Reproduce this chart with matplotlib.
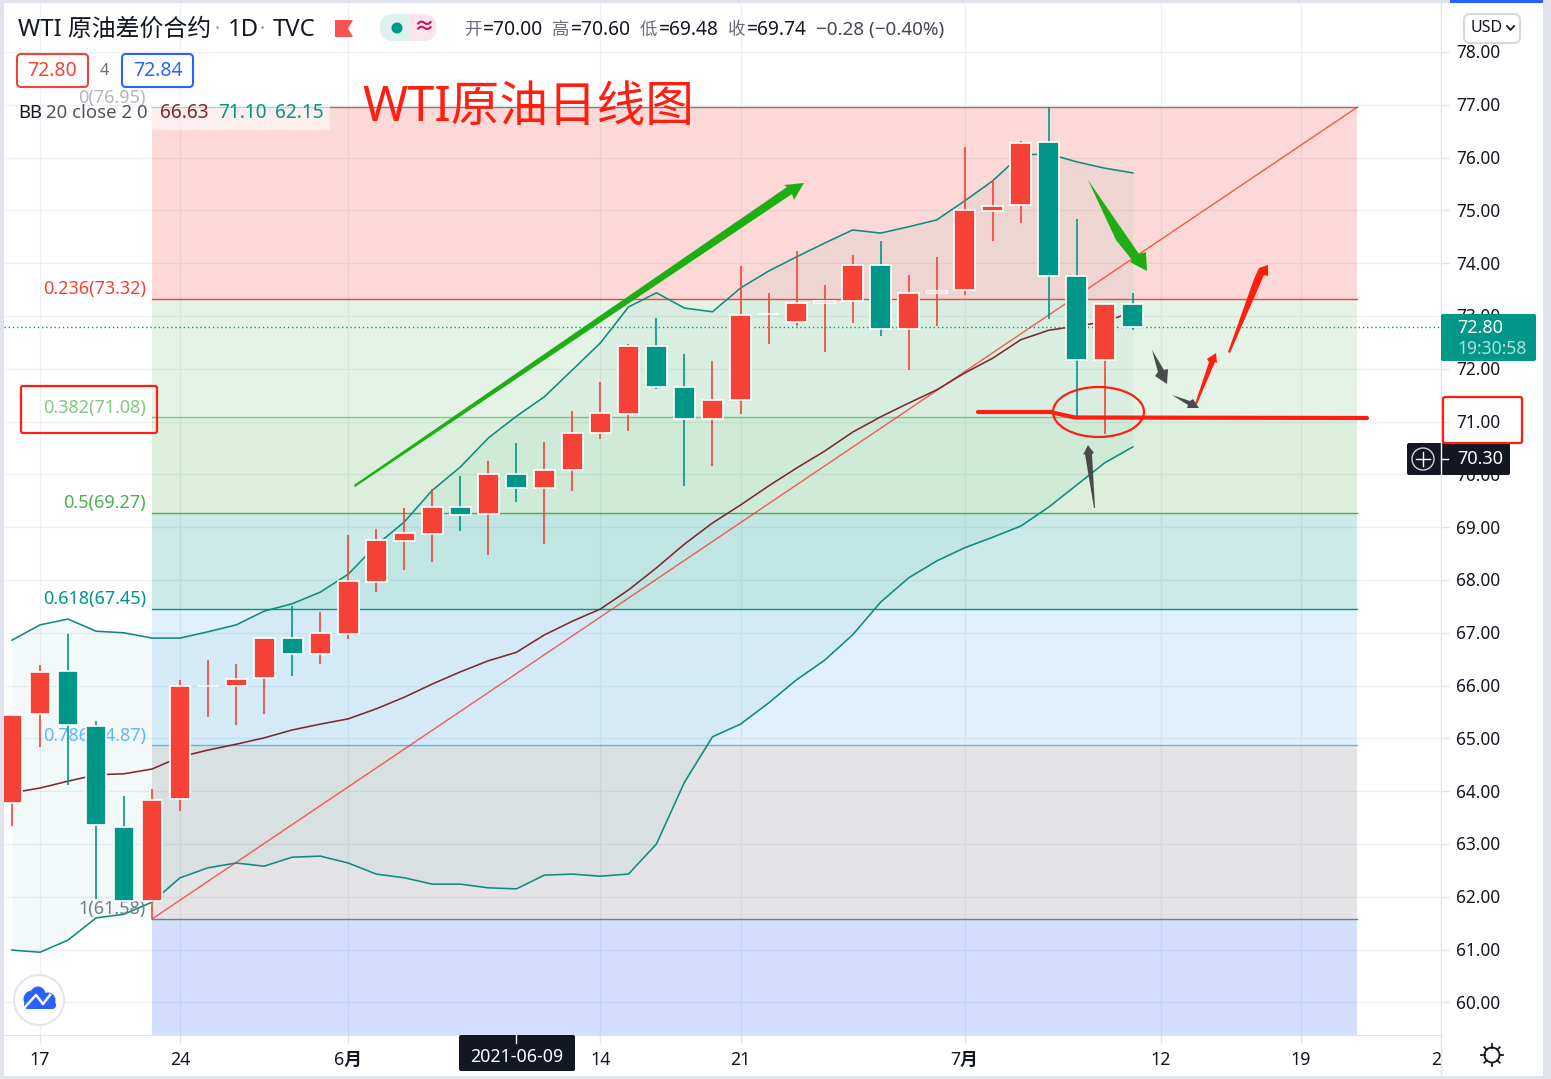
import numpy as np
import matplotlib
matplotlib.use('Agg')
import matplotlib.pyplot as plt
from matplotlib.patches import Polygon, FancyBboxPatch, Rectangle, Circle, Ellipse
from matplotlib.transforms import ScaledTranslation

plt.rcParams['font.family'] = ['Noto Sans', 'Noto Sans CJK SC', 'DejaVu Sans']

# daily candles, TVC WTI
opens = [63.78, 65.46, 66.28, 65.24, 63.32, 61.92, 63.85, 66.00, 66.00, 66.14, 66.90, 66.60, 66.98, 67.96,
         68.74, 68.87, 69.38, 69.25, 70.00, 69.74, 70.08, 70.78, 71.14, 72.43, 71.66, 71.05, 71.41, 73.04,
         72.89, 73.25, 73.28, 73.97, 72.75, 73.43, 73.49, 74.99, 75.10, 76.29, 73.76, 72.17, 73.23]
closes = [65.44, 66.26, 65.25, 63.36, 61.92, 63.83, 66.00, 66.00, 66.12, 66.90, 66.60, 67.00, 67.98, 68.76,
          68.89, 69.38, 69.23, 70.00, 69.74, 70.08, 70.78, 71.16, 72.43, 71.66, 71.05, 71.41, 73.02, 73.04,
          73.25, 73.28, 73.97, 72.75, 73.44, 73.47, 75.00, 75.08, 76.27, 73.76, 72.17, 73.23, 72.80]
highs = [65.44, 66.39, 66.98, 65.33, 63.91, 64.04, 66.11, 66.48, 66.41, 66.90, 67.50, 67.39, 68.85, 68.97,
         69.36, 69.72, 69.97, 70.25, 70.60, 70.61, 71.20, 71.75, 72.47, 72.96, 72.28, 72.15, 73.95, 73.44,
         74.23, 73.59, 74.16, 74.42, 73.78, 74.12, 76.20, 75.58, 76.31, 76.95, 74.84, 73.23, 73.44]
lows = [63.34, 64.84, 64.12, 61.96, 61.92, 61.58, 63.63, 65.41, 65.25, 65.46, 66.18, 66.41, 66.88, 67.77,
        68.19, 68.34, 68.93, 68.47, 69.48, 68.68, 69.69, 70.67, 70.82, 71.62, 69.78, 70.16, 71.14, 72.47,
        72.81, 72.32, 72.87, 72.62, 71.98, 72.81, 73.40, 74.42, 74.76, 72.94, 71.09, 70.77, 72.73]

# Bollinger bands 20, 2
bb_upper = [66.86, 67.15, 67.26, 67.03, 67.00, 66.90, 66.90, 67.02, 67.15, 67.41, 67.55, 67.77, 68.11, 68.66,
            69.10, 69.70, 70.14, 70.69, 71.10, 71.47, 71.98, 72.49, 73.17, 73.44, 73.15, 73.08, 73.53, 73.85,
            74.12, 74.38, 74.63, 74.57, 74.69, 74.82, 75.18, 75.56, 76.05, 76.07, 75.92, 75.80, 75.71]
bb_basis = [63.97, 64.06, 64.19, 64.31, 64.33, 64.42, 64.65, 64.78, 64.89, 65.01, 65.16, 65.27, 65.37, 65.56,
            65.78, 66.03, 66.26, 66.47, 66.63, 66.96, 67.22, 67.45, 67.81, 68.23, 68.68, 69.08, 69.42, 69.78,
            70.12, 70.44, 70.80, 71.09, 71.35, 71.60, 71.92, 72.20, 72.55, 72.73, 72.81, 72.89, 73.08]
bb_lower = [60.99, 60.95, 61.18, 61.60, 61.67, 61.90, 62.36, 62.55, 62.64, 62.58, 62.75, 62.77, 62.64, 62.43,
            62.36, 62.24, 62.24, 62.17, 62.15, 62.41, 62.43, 62.39, 62.43, 63.00, 64.17, 65.03, 65.27, 65.67,
            66.11, 66.48, 66.96, 67.58, 68.04, 68.36, 68.61, 68.81, 69.02, 69.38, 69.80, 70.22, 70.52]

# fibonacci retracement
fib_names = ['0', '0.236', '0.382', '0.5', '0.618', '0.786', '1']
fib_prices = [76.95, 73.32, 71.08, 69.27, 67.45, 64.87, 61.58]
fib_colors = ['#787B86', '#F44336', '#81C784', '#4CAF50', '#009688', '#64B5F6', '#787B86']
fib_fills = ['#F44336', '#81C784', '#4CAF50', '#009688', '#64B5F6', '#787B86', '#2962FF']

price_ticks = list(range(60, 79))
date_ticks = [1, 6, 12, 21, 26, 34, 41, 46, 51]
date_labels = ['17', '24', '6月', '14', '21', '7月', '12', '19', '2']

last_price = 72.80
hover_price = 70.30
fib_start = 5
fib_end = 48

RED = '#F44336'
TEAL = '#009688'
INK = '#131722'
BORDER = '#E0E3EB'
MARK = '#FF1E10'

W, H = 1551, 1079
fig = plt.figure(figsize=(W / 100, H / 100), dpi=100, facecolor='white')
ax = fig.add_axes([4 / W, 1 - 1035 / H, (1441 - 4) / W, (1035 - 3) / H])
x_per_bar = 28.025
ax.set_xlim((4 - 12) / x_per_bar, (1441 - 12) / x_per_bar)
ax.set_ylim(78 - (1035 - 52) / 52.8, 78 + (52 - 3) / 52.8)

ax.set_axisbelow(True)
ax.grid(True, color='#EDF0F4', lw=1)
for s in ['top', 'left']:
    ax.spines[s].set_visible(False)
for s in ['right', 'bottom']:
    ax.spines[s].set_color(BORDER)
ax.yaxis.tick_right()
ax.set_yticks(price_ticks)
ax.set_yticklabels(['%.2f' % p for p in price_ticks], fontsize=12.4, color=INK)
ax.tick_params(axis='y', length=5.8, width=1, color=BORDER, pad=5)
nudge = ScaledTranslation(0, 0.7 / 100, fig.dpi_scale_trans)
for lbl in ax.get_yticklabels():
    lbl.set_transform(lbl.get_transform() + nudge)
ax.set_xticks(date_ticks)
ax.set_xticklabels(date_labels, fontsize=12.8, color=INK)
ax.tick_params(axis='x', length=5.8, width=1, color=BORDER, pad=6)
for lbl in ax.get_xticklabels():
    if '月' in lbl.get_text():
        lbl.set_fontweight('bold')
# the last date sits against the price scale
ax.get_xticklabels()[-1].set_ha('right')

# fib zones and levels
x_fib = [fib_start, fib_end]
bottoms = fib_prices[1:] + [ax.get_ylim()[0]]
for top, bot, c in zip(fib_prices, bottoms, fib_fills):
    ax.fill_between(x_fib, bot, top, color=c, alpha=0.2, lw=0, zorder=1)
for p, c in zip(fib_prices, fib_colors):
    ax.plot(x_fib, [p, p], color=c, lw=1, zorder=2)
ax.plot(x_fib, [fib_prices[-1], fib_prices[0]], color=RED, lw=1, alpha=0.85, zorder=2.5)

# bollinger bands
x = np.arange(len(closes))
ax.fill_between(x, bb_lower, bb_upper, color=TEAL, alpha=0.05, lw=0, zorder=2)
ax.plot(x, bb_upper, color='#0F8A80', lw=1.15, zorder=3)
ax.plot(x, bb_lower, color='#0F8A80', lw=1.15, zorder=3)
ax.plot(x, bb_basis, color='#7B2A2E', lw=1.15, zorder=3)

ax.axhline(last_price, color=TEAL, lw=1, ls=(0, (1, 2)), zorder=3.2)

# fib level captions
for name, p, c in zip(fib_names, fib_prices, fib_colors):
    a = 0.55 if name == '0' else 1
    ax.annotate('%s(%.2f)' % (name, p), (fib_start, p), xytext=(-4.5, 0.5), textcoords='offset points',
                ha='right', va='bottom', fontsize=13, color=c, alpha=a, zorder=3.5, annotation_clip=False)

# candles
colors = [RED if c >= o else TEAL for o, c in zip(opens, closes)]
ax.vlines(x, lows, highs, colors=colors, lw=1.2, zorder=4)
o = np.array(opens)
c = np.array(closes)
ax.bar(x, c - o, bottom=o, width=0.74, color=colors, edgecolor='white', lw=1.2, zorder=5)

# overlay in pixel units for the toolbar bits and hand drawn marks
ov = fig.add_axes([0, 0, 1, 1], zorder=10)
ov.set_xlim(0, W)
ov.set_ylim(H, 0)
ov.axis('off')


def rbox(x0, y0, x1, y1, r=3, **kw):
    ov.add_patch(FancyBboxPatch((x0, y0), x1 - x0, y1 - y0, boxstyle='round,pad=0,rounding_size=%g' % r, **kw))


def label(px, py, s, size=12.4, color=INK, ha='left', **kw):
    ov.text(px, py, s, fontsize=size, color=color, ha=ha, va='center', **kw)


# page frame
ov.add_patch(Rectangle((1442, 1036), W - 1442, H - 1036, color='white', lw=0))
ov.add_patch(Rectangle((0, 0), 3.5, H, color=BORDER, lw=0))
ov.add_patch(Rectangle((1543, 0), 8, H, color=BORDER, lw=0))
ov.add_patch(Rectangle((0, 1076), W, 3, color=BORDER, lw=0))
ov.add_patch(Rectangle((0, 0), W, 2.5, color=BORDER, lw=0))
ov.add_patch(Rectangle((1450, 0), 93, 2.5, color='#2962FF', lw=0))
ov.plot([1441, 1441], [1035, 1076], color=BORDER, lw=1)

# symbol header
label(18, 30, 'WTI 原油差价合约', 17.2)
label(215, 30, '·', 14, '#9598A1')
label(228, 30, '1D', 17.2)
label(260, 30, '·', 14, '#9598A1')
label(273, 30, 'TVC', 17.2)
ov.add_patch(Polygon([(335, 20), (353, 20), (348, 28.5), (353, 37), (335, 37)], color='#FF5252', lw=0))
rbox(380, 14, 436, 41, 13, color='#DDF2EF', lw=0)
rbox(409, 14, 436, 41, 13, color='#FCE4EC', lw=0)
ov.add_patch(Rectangle((409, 14), 10, 27, color='#FCE4EC', lw=0))
ov.add_patch(Circle((397, 28), 5.5, color=TEAL, lw=0))
label(424, 28, '≈', 15, '#C2185B', ha='center', fontweight='bold')

label(464, 30, '开', 12.6, '#6A6D78')
label(483, 30, '=70.00', 13.8)
label(552, 30, '高', 12.6, '#6A6D78')
label(571, 30, '=70.60', 13.8)
label(640, 30, '低', 12.6, '#6A6D78')
label(659, 30, '=69.48', 13.8)
label(728, 30, '收', 12.6, '#6A6D78')
label(747, 30, '=69.74', 13.8)
label(816, 30, '−0.28 (−0.40%)', 13.6, '#444751')

# bid/ask boxes
rbox(17, 54, 88, 87, 4, fc='white', ec=RED, lw=1.5)
label(52.5, 71, '72.80', 14, RED, ha='center')
label(104, 71, '4', 11.5, '#6A6D78', ha='center')
rbox(122, 54, 193, 87, 4, fc='white', ec='#2962FF', lw=1.5)
label(157.5, 71, '72.84', 14, '#2962FF', ha='center')

# indicator legend
ov.add_patch(Rectangle((152, 100), 178, 30, color='white', alpha=0.6, lw=0))
label(18, 113, 'BB', 13.4)
label(46, 113, '20 close 2 0', 13.4, '#50535E')
label(160, 113, '66.63', 13.7, '#7B2A2E')
label(218, 113, '71.10', 13.7, TEAL)
label(275, 113, '62.15', 13.7, TEAL)

ov.text(362, 108, 'WTI原油日线图', fontsize=35, color=MARK, va='center', ha='left')

# price scale tags
rbox(1464, 14, 1520, 43, 6, fc='white', ec='#D6D9E0', lw=1.5)
label(1471, 28, 'USD', 11.5)
ov.plot([1507, 1510.5, 1514], [26, 30, 26], color=INK, lw=1.3)
rbox(1441, 314, 1536, 361, 2, color=TEAL, lw=0)
label(1457, 328, '%.2f' % last_price, 13, 'white', fontweight='bold')
label(1457, 349, '19:30:58', 12.6, '#B2DFDB', fontweight='bold')
rbox(1407, 443, 1510, 475, 2, color=INK, lw=0)
ov.plot([1440.5, 1440.5], [443, 475], color='white', lw=1)
ov.plot([1441, 1448], [458.5, 458.5], color='white', lw=1)
label(1457, 459, '%.2f' % hover_price, 13, 'white', fontweight='bold')
ov.add_patch(Circle((1423, 459), 11, fc='none', ec='#D1D4DC', lw=1))
ov.plot([1416, 1430], [459, 459], color='white', lw=1)
ov.plot([1423, 1423], [452, 466], color='white', lw=1)

# hovered date
rbox(459, 1035, 575, 1071, 2, color=INK, lw=0)
ov.plot([516, 516], [1035, 1043], color='white', lw=1)
label(517, 1057.5, '2021-06-09', 12.8, 'white', ha='center')

# settings gear
ov.add_patch(Circle((1492, 1055), 7.5, fc='none', ec=INK, lw=1.3))
for ang in np.arange(0, 360, 45):
    ca, sa = np.cos(np.radians(ang)), np.sin(np.radians(ang))
    ov.plot([1492 + 7.5 * ca, 1492 + 11 * ca], [1055 + 7.5 * sa, 1055 + 11 * sa], color=INK, lw=1.3)

# logo button
ov.add_patch(Circle((39, 1000), 25, fc='white', ec='#E4E6EA', lw=1.5))
cloud = '#2962FF'
ov.add_patch(Circle((32, 999), 8.5, color=cloud, lw=0))
ov.add_patch(Circle((38, 994), 7.5, color=cloud, lw=0))
ov.add_patch(Circle((48, 1000), 7.5, color=cloud, lw=0))
ov.add_patch(FancyBboxPatch((24, 1001), 32, 8, boxstyle='round,pad=0,rounding_size=4', color=cloud, lw=0))
ov.plot([25, 36, 43, 50], [1007, 995, 1004, 995], color='white', lw=1.8)

# hand drawn marks
for pts, col in [
    ([(354, 485), (787, 187), (784, 185), (804, 183), (794, 200), (792, 194), (355, 487)], '#1FAD16'),
    ([(1088, 180), (1139, 254), (1146, 252), (1147, 271), (1130, 262), (1132, 260), (1116, 240)], '#1FAD16'),
    ([(1228, 352), (1254, 279), (1259, 268), (1268, 265), (1268, 276), (1264, 275), (1230, 353)], MARK),
    ([(1195, 404), (1209, 362), (1207, 359), (1216, 353), (1217, 363), (1215, 362), (1197, 404)], MARK),
    ([(1152, 350), (1164, 370), (1168, 369), (1167, 384), (1155, 376), (1158, 372)], '#4A4A4A'),
    ([(1172, 395), (1190, 401), (1193, 399), (1199, 408), (1187, 408), (1188, 405)], '#4A4A4A'),
    ([(1095, 508), (1092, 454), (1094, 453), (1088, 445), (1083, 455), (1085, 454), (1094, 508)], '#4A4A4A'),
]:
    ov.add_patch(Polygon(pts, closed=True, color=col, lw=0))

ov.plot([978, 1050, 1075, 1367], [412, 412, 417.5, 418], color=MARK, lw=3, solid_capstyle='round')
ov.add_patch(Ellipse((1098.5, 412), 91, 50, fc='none', ec=MARK, lw=1.6))
rbox(21, 386, 157, 433, 2, fc='none', ec=MARK, lw=1.6)
rbox(1443, 397, 1522, 443, 2, fc='none', ec=MARK, lw=1.6)

fig.savefig('out.png', dpi=100)
